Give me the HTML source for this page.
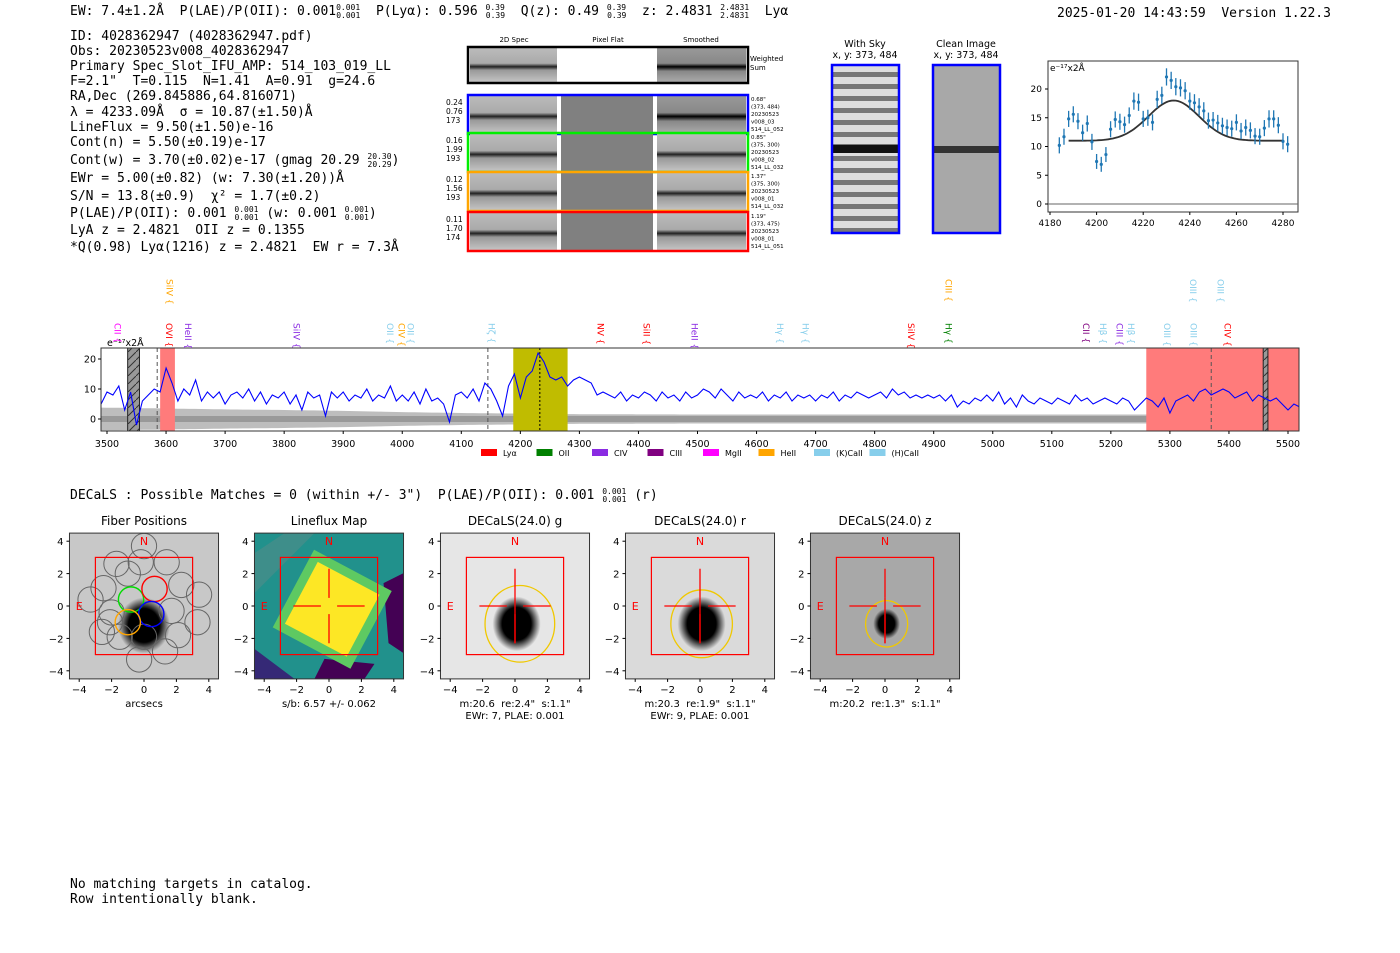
<!DOCTYPE html>
<html><head><meta charset="utf-8"><style>
html,body{margin:0;padding:0;background:#fff;width:1400px;height:953px;overflow:hidden}
svg{display:block}
text{white-space:pre}
.m{font-family:"DejaVu Sans Mono","Liberation Mono",monospace;font-size:13px;fill:#000}
.s{font-family:"DejaVu Sans","Liberation Sans",sans-serif}
</style></head><body>
<svg id="fig" width="1400" height="953" viewBox="0 0 1400 953" xmlns="http://www.w3.org/2000/svg" xml:space="preserve">
<defs>
<linearGradient id="band" x1="0" y1="0" x2="0" y2="1">
<stop offset="0" stop-color="#bbb"/><stop offset="0.45" stop-color="#aaa"/><stop offset="0.55" stop-color="#222"/><stop offset="0.65" stop-color="#999"/><stop offset="1" stop-color="#c4c4c4"/></linearGradient>
<linearGradient id="band2" x1="0" y1="0" x2="0" y2="1">
<stop offset="0" stop-color="#999"/><stop offset="0.45" stop-color="#888"/><stop offset="0.55" stop-color="#000"/><stop offset="0.68" stop-color="#888"/><stop offset="1" stop-color="#aaa"/></linearGradient>
<pattern id="stripes" width="6" height="12" patternUnits="userSpaceOnUse"><rect width="6" height="12" fill="#ddd"/><rect y="0" width="6" height="5" fill="#777"/></pattern>
<pattern id="hatch" width="8" height="8" patternUnits="userSpaceOnUse"><rect width="8" height="8" fill="#999"/><path d="M0 8 L8 0" stroke="#333" stroke-width="1"/></pattern>
<radialGradient id="blob"><stop offset="0.6" stop-color="#000"/><stop offset="1" stop-color="#000" stop-opacity="0"/></radialGradient>
</defs>

<text class="m" x="70" y="15" font-size="14">EW: 7.4±1.2Å  P(LAE)/P(OII): 0.001<tspan font-size="8" dy="-5">0.001</tspan><tspan font-size="8" dx="-24" dy="8">0.001</tspan><tspan dy="-3">  P(Lyα): 0.596 </tspan><tspan font-size="8" dy="-5">0.39</tspan><tspan font-size="8" dx="-19" dy="8">0.39</tspan><tspan dy="-3">  Q(z): 0.49 </tspan><tspan font-size="8" dy="-5">0.39</tspan><tspan font-size="8" dx="-19" dy="8">0.39</tspan><tspan dy="-3">  z: 2.4831 </tspan><tspan font-size="8" dy="-5">2.4831</tspan><tspan font-size="8" dx="-29" dy="8">2.4831</tspan><tspan dy="-3">  Lyα</tspan></text>
<text class="m" x="1057" y="17" font-size="14">2025-01-20 14:43:59  Version 1.22.3</text>

<g>
<text class="m" x="70" y="40">ID: 4028362947 (4028362947.pdf)</text>
<text class="m" x="70" y="55">Obs: 20230523v008_4028362947</text>
<text class="m" x="70" y="70">Primary Spec_Slot_IFU_AMP: 514_103_019_LL</text>
<text class="m" x="70" y="85">F=2.1"  T=0.115  N=1.41  A=0.91  g=24.6</text>
<text class="m" x="70" y="100">RA,Dec (269.845886,64.816071)</text>
<text class="m" x="70" y="116">λ = 4233.09Å  σ = 10.87(±1.50)Å</text>
<text class="m" x="70" y="131">LineFlux = 9.50(±1.50)e-16</text>
<text class="m" x="70" y="146">Cont(n) = 5.50(±0.19)e-17</text>
<text class="m" x="70" y="164">Cont(w) = 3.70(±0.02)e-17 (gmag 20.29 <tspan font-size="8" dy="-5">20.30</tspan><tspan font-size="8" dx="-24" dy="8">20.29</tspan><tspan dy="-3">)</tspan></text>
<text class="m" x="70" y="182">EWr = 5.00(±0.82) (w: 7.30(±1.20))Å</text>
<text class="m" x="70" y="200">S/N = 13.8(±0.9)  χ² = 1.7(±0.2)</text>
<text class="m" x="70" y="217">P(LAE)/P(OII): 0.001 <tspan font-size="8" dy="-5">0.001</tspan><tspan font-size="8" dx="-24" dy="8">0.001</tspan><tspan dy="-3"> (w: 0.001 </tspan><tspan font-size="8" dy="-5">0.001</tspan><tspan font-size="8" dx="-24" dy="8">0.001</tspan><tspan dy="-3">)</tspan></text>
<text class="m" x="70" y="234">LyA z = 2.4821  OII z = 0.1355</text>
<text class="m" x="70" y="251">*Q(0.98) Lyα(1216) z = 2.4821  EW r = 7.3Å</text>
</g>

<g class="s" font-size="7">
<text x="514" y="42" text-anchor="middle">2D Spec</text>
<text x="608" y="42" text-anchor="middle">Pixel Flat</text>
<text x="701" y="42" text-anchor="middle">Smoothed</text>
<rect x="470" y="48" width="87" height="34" fill="url(#band)"/>
<rect x="657" y="48" width="89" height="34" fill="url(#band2)"/>
<rect x="468" y="47" width="280" height="36" fill="none" stroke="#000" stroke-width="2.5"/>
<text x="750" y="61">Weighted</text><text x="750" y="70">Sum</text>
<g id="rows"></g>
</g>

<g class="s" font-size="9.5">
<text x="865" y="47" text-anchor="middle">With Sky</text>
<text x="865" y="58" text-anchor="middle">x, y: 373, 484</text>
<rect x="832" y="65" width="67" height="168" fill="url(#stripes)"/>
<rect x="832" y="145" width="67" height="8" fill="#111"/>
<rect x="832" y="65" width="67" height="168" fill="none" stroke="#0000ff" stroke-width="2.5"/>
<text x="966" y="47" text-anchor="middle">Clean Image</text>
<text x="966" y="58" text-anchor="middle">x, y: 373, 484</text>
<rect x="933" y="65" width="67" height="168" fill="#a8a8a8"/>
<rect x="933" y="146" width="67" height="7" fill="#333"/>
<rect x="933" y="65" width="67" height="168" fill="none" stroke="#0000ff" stroke-width="2.5"/>
</g>

<g id="fit"></g>
<g id="spec"></g>

<text class="m" x="70" y="499">DECaLS : Possible Matches = 0 (within +/- 3")  P(LAE)/P(OII): 0.001 <tspan font-size="8" dy="-5">0.001</tspan><tspan font-size="8" dx="-24" dy="8">0.001</tspan><tspan dy="-3"> (r)</tspan></text>

<g id="panels"></g>

<text class="m" x="70" y="888">No matching targets in catalog.</text>
<text class="m" x="70" y="903">Row intentionally blank.</text>
</svg>
<script>
const specStart = 3490, specStep = 10;
const specFlux = [5,9,8,11,3,9,-2,6,8,10,9,
17,12,6,10,8,13,6,9,7,9,
5,8,9,7,10,6,9,5,8,7,
9,5,8,3,9,7,8,1,9,7,
9,6,8,7,10,6,8,7,11,6,
8,6,9,5,10,6,7,5,-1,8,
9,7,10,6,12,10,6,1,11,15,
7,14,16,22,19,14,13,14,11,13,
14,13,12,8,9,8,7,9,6,8,
7,9,8,6,9,7,8,6,9,7,
8,10,9,7,10,8,6,9,7,8,
7,9,6,8,7,9,6,8,7,8,
6,8,7,9,6,8,7,9,8,7,
8,9,7,10,8,9,7,8,7,8,
7,8,6,8,4,6,5,7,6,8,
6,9,5,7,4,8,6,5,7,6,
5,7,6,5,8,6,7,5,6,7,
6,5,7,6,3,5,7,6,4,7,
2,6,7,8,6,9,10,8,9,10,
9,7,8,9,6,8,7,6,7,5,
3,5,4];
const errWave = [3490,3600,3700,3800,3900,4000,4100,4200,4300,4500,5000,5520];
const errVals = [3.8,3.5,3.2,3.0,2.7,2.3,2.0,1.8,1.6,1.5,1.5,1.5];
const specTicks = [3500,3600,3700,3800,3900,4000,4100,4200,4300,4400,4500,4600,4700,4800,4900,5000,5100,5200,5300,5400,5500];
const specYTicks = [0,10,20];
const lineNames = ["SiIV","CIII","OIII","OIII","CII","OVI","HeII","SiIV","OII","CIV","OII","Hζ","NV","SiII","HeII","Hγ","Hγ","SiIV","Hγ","CII","Hβ","CIII","Hβ","OIII","OIII","CIV"];
const lineWaves = [3605,4924,5338,5385,3517,3604,3636,3820,3978,3998,4013,4150,4335,4413,4494,4639,4682,4861,4924,5157,5186,5214,5233,5294,5339,5397];
const lineRow = [0,0,0,0,1,1,1,1,1,1,1,1,1,1,1,1,1,1,1,1,1,1,1,1,1,1];
const lineColors = ["orange","orange","#87ceeb","#87ceeb","magenta","red","#8a2be2","#8a2be2","#87ceeb","orange","#87ceeb","#87ceeb","red","red","#8a2be2","#87ceeb","#87ceeb","red","green","#800080","#87ceeb","#8a2be2","#87ceeb","#87ceeb","#87ceeb","red"];
const legendNames = ["Lyα","OII","CIV","CIII","MgII","HeII","(K)CaII","(H)CaII"];
const legendColors = ["red","green","#8a2be2","#800080","magenta","orange","#87ceeb","#87ceeb"];

const fitWave = [4184,4186,4188,4190,4192,4194,4196,4198,4200,4202,4204,4206,4208,4210,4212,4214,4216,4218,4220,4222,4224,4226,4228,4230,4232,4234,4236,4238,4240,4242,4244,4246,4248,4250,4252,4254,4256,4258,4260,4262,4264,4266,4268,4270,4272,4274,4276,4278,4280,4282];
const fitFlux = [10.2,11.7,14.8,15.6,14.4,12.4,14.0,10.8,7.4,6.9,8.6,13.0,14.7,14.3,13.8,15.4,17.9,17.7,14.8,15.0,14.2,18.2,18.9,22.1,21.5,20.4,20.2,19.7,17.9,17.6,16.9,16.2,14.5,14.6,14.1,13.6,13.3,13.1,14.2,12.7,13.3,12.8,11.8,11.7,13.2,14.8,14.8,13.7,10.9,10.4];
const fitErr = [1.4,1.4,1.4,1.4,1.4,1.4,1.4,1.4,1.3,1.3,1.3,1.4,1.4,1.4,1.4,1.4,1.5,1.5,1.4,1.4,1.4,1.5,1.5,1.5,1.5,1.5,1.5,1.5,1.5,1.5,1.5,1.5,1.4,1.4,1.4,1.4,1.4,1.4,1.4,1.4,1.4,1.4,1.4,1.4,1.4,1.5,1.5,1.4,1.4,1.4];
const fitParams = [11.0, 7.0, 4233.09, 10.87];
const fitXTicks = [4180,4200,4220,4240,4260,4280];
const fitYTicks = [0,5,10,15,20];

const NS = "http://www.w3.org/2000/svg";
function mk(tag, attrs, parent){const e=document.createElementNS(NS,tag);for(const k in attrs)e.setAttribute(k,attrs[k]);parent.appendChild(e);return e;}
function txt(parent,x,y,s,attrs){const e=mk("text",Object.assign({x:x,y:y,class:"s"},attrs||{}),parent);e.textContent=s;return e;}

(function(){
  const g=document.getElementById("rows");
  const rowsY=[96,134,173,213], colors=["#0000ff","#00ee00","orange","red"];
  const left=[["0.24","0.76","173"],["0.16","1.99","193"],["0.12","1.56","193"],["0.11","1.70","174"]];
  const right=[["0.68\"","(373, 484)","20230523","v008_03","514_LL_052"],["0.85\"","(375, 300)","20230523","v008_02","514_LL_032"],["1.37\"","(375, 300)","20230523","v008_01","514_LL_032"],["1.19\"","(373, 475)","20230523","v008_01","514_LL_051"]];
  rowsY.forEach((y,i)=>{
    const r=mk("rect",{x:470,y:y,width:87,height:37,fill:"url(#band)"},g);
    
    
    mk("rect",{x:561,y:y,width:92,height:37,fill:"#808080"},g);
    mk("rect",{x:657,y:y,width:89,height:37,fill:i==0?"url(#band2)":"url(#band)"},g);
    const f=mk("rect",{x:468,y:y-1,width:280,height:39,fill:"none",stroke:colors[i],"stroke-width":2.5},g);
    
    
    left[i].forEach((s,j)=>txt(g,446,y+9+j*9,s,{"font-size":"7.5"}));
    right[i].forEach((s,j)=>txt(g,751,y+5+j*7.5,s,{"font-size":"5.5"}));
  });
})();

(function(){
  const g=document.getElementById("fit");
  const X=w=>1050+(w-4180)*2.33, Y=v=>204-v*5.75;
  mk("rect",{x:1048,y:61,width:250,height:151,fill:"#fff",stroke:"#333","stroke-width":1},g);
  mk("line",{x1:1048,x2:1298,y1:Y(0),y2:Y(0),stroke:"#666","stroke-width":1},g);
  fitXTicks.forEach(t=>{mk("line",{x1:X(t),x2:X(t),y1:212,y2:215,stroke:"#000"},g);txt(g,X(t),226,t,{"font-size":"9","text-anchor":"middle"});});
  fitYTicks.forEach(t=>{mk("line",{x1:1045,x2:1048,y1:Y(t),y2:Y(t),stroke:"#000"},g);txt(g,1042,Y(t)+3,t,{"font-size":"9","text-anchor":"end"});});
  txt(g,1050,71,"e⁻¹⁷x2Å",{"font-size":"9"});
  let d="";
  for(let w=4188;w<=4280;w+=1){const v=fitParams[0]+fitParams[1]*Math.exp(-0.5*Math.pow((w-fitParams[2])/fitParams[3],2));d+=(d?"L":"M")+X(w).toFixed(1)+" "+Y(v).toFixed(1);}
  const p=mk("path",{d:d,fill:"none",stroke:"#333","stroke-width":1.8},g);
  
  
  fitWave.forEach((w,i)=>{
    const e=mk("line",{x1:X(w),x2:X(w),y1:Y(fitFlux[i]+fitErr[i]),y2:Y(fitFlux[i]-fitErr[i]),stroke:"#1f77b4","stroke-width":1.3},g);
    
    
    const c=mk("circle",{cx:X(w),cy:Y(fitFlux[i]),r:1.6,fill:"#1f77b4"},g);
    
    
  });
})();

(function(){
  const g=document.getElementById("spec");
  const X=w=>107+(w-3500)*0.5905, Y=v=>419-v*3;
  const L=101,R=1299,T=348,B=431;
  mk("rect",{x:L,y:T,width:R-L,height:B-T,fill:"#fff"},g);
  let up="",dn="";
  const errAt=w=>{for(let i=0;i<errWave.length-1;i++){if(w<=errWave[i+1]){const f=(w-errWave[i])/(errWave[i+1]-errWave[i]);return errVals[i]+f*(errVals[i+1]-errVals[i]);}}return errVals[errVals.length-1];};
  const pts=[];for(let w=3490;w<=5520;w+=10)pts.push(w);
  pts.forEach((w,i)=>{up+=(i?"L":"M")+X(w).toFixed(1)+" "+Y(errAt(w)).toFixed(1);});
  pts.slice().reverse().forEach(w=>{dn+="L"+X(w).toFixed(1)+" "+Y(-errAt(w)).toFixed(1);});
  const cp=mk("clipPath",{id:"sc"},g);mk("rect",{x:L,y:T,width:R-L,height:B-T},cp);
  const band=mk("path",{d:up+dn+"Z",fill:"#bdbdbd","clip-path":"url(#sc)"},g);
  
  
  mk("rect",{x:L,y:Y(1),width:R-L,height:6,fill:"#999"},g);
  const reg=[[3535,3555,"url(#hatch)"],[3590,3615,"#ff7b7b"],[4188,4280,"#c0bc00"],[5260,5530,"#ff7b7b"],[5458,5466,"url(#hatch)"]];
  reg.forEach(r=>{const e=mk("rect",{x:X(r[0]),y:T,width:Math.min(X(r[1]),R)-X(r[0]),height:B-T,fill:r[2],stroke:r[2].startsWith("url")?"#222":"none"},g);
    
    });
  [3585,4145,5370].forEach(w=>mk("line",{x1:X(w),x2:X(w),y1:T,y2:B,stroke:"#555","stroke-dasharray":"4,3","stroke-width":1},g));
  mk("line",{x1:X(4233),x2:X(4233),y1:T,y2:B,stroke:"#000","stroke-dasharray":"2,2","stroke-width":1},g);
  let d="";specFlux.forEach((v,i)=>{const w=specStart+i*specStep;d+=(i?"L":"M")+X(w).toFixed(1)+" "+Y(v).toFixed(1);});
  const fl=mk("path",{d:d,fill:"none",stroke:"#0000ff","stroke-width":1.1,"clip-path":"url(#sc)"},g);
  
  
  mk("rect",{x:L,y:T,width:R-L,height:B-T,fill:"none",stroke:"#333","stroke-width":1},g);
  specTicks.forEach(t=>{mk("line",{x1:X(t),x2:X(t),y1:B,y2:B+3,stroke:"#000"},g);txt(g,X(t),447,t,{"font-size":"9.5","text-anchor":"middle"});});
  specYTicks.forEach(t=>{mk("line",{x1:L-3,x2:L,y1:Y(t),y2:Y(t),stroke:"#000"},g);txt(g,L-5,Y(t)+3.5,t,{"font-size":"9.5","text-anchor":"end"});});
  txt(g,107,346,"e⁻¹⁷x2Å",{"font-size":"9.5"});
  lineNames.forEach((n,i)=>{
    const x=X(lineWaves[i]), y=lineRow[i]?323:279;
    const t=mk("text",{x:x,y:y,class:"s","font-size":"9",style:"fill:"+lineColors[i],transform:`rotate(90 ${x} ${y})`,"dominant-baseline":"middle"},g);
    t.textContent=n+" {";
    
    
  });
  legendNames.forEach((n,i)=>{
    const x=481+i*55.5;
    const r=mk("rect",{x:x,y:449,width:16,height:7,fill:legendColors[i]},g);
    
    
    txt(g,x+22,456,n,{"font-size":"8"});
  });
})();

(function(){
  const g=document.getElementById("panels");
  const cx0=[144,329,515,700,885], titles=["Fiber Positions","Lineflux Map","DECaLS(24.0) g","DECaLS(24.0) r","DECaLS(24.0) z"];
  const sub1=["arcsecs","s/b: 6.57 +/- 0.062","m:20.6  re:2.4\"  s:1.1\"","m:20.3  re:1.9\"  s:1.1\"","m:20.2  re:1.3\"  s:1.1\""];
  const sub2=["","","EWr: 7, PLAE: 0.001","EWr: 9, PLAE: 0.001",""];
  const bg=["#c8c8c8","#2c8a8a","#e6e6e6","#dadada","#a8a8a8"];
  const ellR=[0,0,2.15,1.9,1.3];
  const S=16.2, cy=606;
  cx0.forEach((cx,k)=>{
    const P=(u,v)=>[cx+u*S, cy-v*S];
    const pg=mk("g",{},g);
    
    
    txt(pg,cx,525,titles[k],{"font-size":"12","text-anchor":"middle"});
    const x0=cx-4.6*S, y0=cy-4.5*S, W=9.2*S, H=9*S;
    const clipId="pc"+k;
    const cpp=mk("clipPath",{id:clipId},pg);mk("rect",{x:x0,y:y0,width:W,height:H},cpp);
    const ig=mk("g",{"clip-path":"url(#"+clipId+")"},pg);
    mk("rect",{x:x0,y:y0,width:W,height:H,fill:bg[k]},ig);
    if(k===1){
      mk("rect",{x:x0,y:y0,width:W,height:H,fill:"#21918c"},ig);
      mk("path",{d:`M${x0} ${y0+H-30} L${x0+40} ${y0+H} L${x0} ${y0+H}Z`,fill:"#3b0f70",opacity:0.8},ig);
      mk("path",{d:`M${x0+W-20} ${y0+50} L${x0+W} ${y0+40} L${x0+W} ${y0+120} L${x0+W-15} ${y0+110}Z`,fill:"#440154"},ig);
      mk("path",{d:`M${x0+70} ${y0+H-20} L${x0+120} ${y0+H-15} L${x0+110} ${y0+H} L${x0+60} ${y0+H}Z`,fill:"#440154"},ig);
      mk("path",{d:`M${x0} ${y0+20} L${x0+30} ${y0} L${x0+60} ${y0} L${x0} ${y0+60}Z`,fill:"#3e8e8a"},ig);
      const c=P(0.2,-0.2);
      mk("rect",{x:c[0]-44,y:c[1]-44,width:88,height:88,fill:"#5ec962",transform:`rotate(28 ${c[0]} ${c[1]})`},ig);
      mk("rect",{x:c[0]-35,y:c[1]-35,width:70,height:70,fill:"#fde725",transform:`rotate(28 ${c[0]} ${c[1]})`},ig);
    } else if(k===0){
      const c=P(0,-1.2);mk("ellipse",{cx:c[0],cy:c[1],rx:26,ry:28,fill:"url(#blob)"},ig);
      const fib=[[0,3.7],[-1.7,2.6],[-0.2,2.7],[1.4,2.7],[-2.5,1.1],[-1.0,2.0],[2.3,1.3],[3.4,0.7],[-3.3,0.4],[1.7,-0.3],[-2.0,-0.4],[3.3,-1.0],[-2.6,-1.6],[2.1,-1.8],[-1.5,-1.9],[0.0,-1.9],[-0.3,-3.3],[1.3,-2.8],[-2.1,-1.0]];
      fib.forEach(f=>{const p=P(f[0],f[1]);mk("circle",{cx:p[0],cy:p[1],r:0.78*S,fill:"none",stroke:"#666","stroke-width":1},ig);});
      [[-0.8,0.4,"#00dd00"],[0.65,1.05,"red"],[0.45,-0.5,"blue"],[-1.0,-1.0,"orange"]].forEach(f=>{const p=P(f[0],f[1]);mk("circle",{cx:p[0],cy:p[1],r:0.78*S,fill:"none",stroke:f[2],"stroke-width":1.4},ig);});
    } else {
      const c=P(0.1,-1.1);
      const rr=k===4?0.75:1.35;
      mk("ellipse",{cx:c[0],cy:c[1],rx:rr*S*1.1,ry:rr*S*1.25,fill:"url(#blob)"},ig);
      const e=P(k===2?0.3:0.1,-1.1);
      mk("ellipse",{cx:e[0],cy:e[1],rx:ellR[k]*S,ry:ellR[k]*S*1.1,fill:"none",stroke:"#f0c800","stroke-width":1.3},ig);
    }
    const a=P(-3,3);
    mk("rect",{x:a[0],y:a[1],width:6*S,height:6*S,fill:"none",stroke:"red","stroke-width":1.2},pg);
    if(k>0){
      [[-2.2,0,-0.5,0],[0.5,0,2.2,0],[0,2.3,0,0.5],[0,-0.5,0,-2.3]].forEach(l=>{const p1=P(l[0],l[1]),p2=P(l[2],l[3]);mk("line",{x1:p1[0],y1:p1[1],x2:p2[0],y2:p2[1],stroke:"red","stroke-width":1.3},pg);});
      if(k>1){const p1=P(0,0.5),p2=P(0,-2.3);mk("line",{x1:p1[0],y1:p1[1],x2:p2[0],y2:p2[1],stroke:"red","stroke-width":1.3},pg);}
    }
    const n=P(0,4);txt(pg,n[0],n[1]+4,"N",{"font-size":"11",style:"fill:red","text-anchor":"middle"});
    const ee=P(-4,0);txt(pg,ee[0],ee[1]+4,"E",{"font-size":"11",style:"fill:red","text-anchor":"middle"});
    mk("rect",{x:x0,y:y0,width:W,height:H,fill:"none",stroke:"#333","stroke-width":1},pg);
    [-4,-2,0,2,4].forEach(t=>{
      const p=P(t,t);
      mk("line",{x1:p[0],x2:p[0],y1:y0+H,y2:y0+H+3,stroke:"#000"},pg);
      txt(pg,p[0],y0+H+14,t<0?"−"+(-t):t,{"font-size":"10","text-anchor":"middle"});
      mk("line",{x1:x0-3,x2:x0,y1:p[1],y2:p[1],stroke:"#000"},pg);
      txt(pg,x0-6,p[1]+4,t<0?"−"+(-t):t,{"font-size":"10","text-anchor":"end"});
    });
    txt(pg,cx,707,sub1[k],{"font-size":"10","text-anchor":"middle"});
    if(sub2[k])txt(pg,cx,719,sub2[k],{"font-size":"10","text-anchor":"middle"});
  });
})();
</script>
</body></html>
